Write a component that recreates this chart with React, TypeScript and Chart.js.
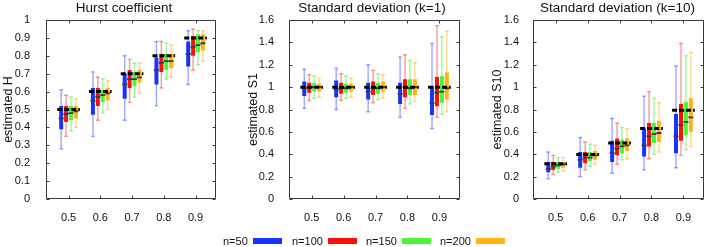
import React, { useEffect, useRef } from "react";
import { Chart, registerables } from "chart.js";

Chart.register(...registerables);

// ---------- data ----------
const categories = [0.5, 0.6, 0.7, 0.8, 0.9];
const seriesNames = ["n=50", "n=100", "n=150", "n=200"];
const yTicksHurst = [0, 0.1, 0.2, 0.3, 0.4, 0.5, 0.6, 0.7, 0.8, 0.9, 1];
const yTicksStd = [0, 0.2, 0.4, 0.6, 0.8, 1, 1.2, 1.4, 1.6];

const hurstTruth = [0.5, 0.6, 0.7, 0.8, 0.9];
const s1Truth = [1, 1, 1, 1, 1];
const s10Truth = [0.316, 0.398, 0.501, 0.631, 0.794];

// each entry: [min, q1, median, q3, max]
const hurstN50 = [[0.28, 0.39, 0.45, 0.52, 0.61], [0.35, 0.47, 0.55, 0.62, 0.71], [0.44, 0.56, 0.64, 0.7, 0.8], [0.52, 0.64, 0.72, 0.79, 0.88], [0.64, 0.74, 0.81, 0.88, 0.94]];
const hurstN100 = [[0.35, 0.43, 0.475, 0.52, 0.58], [0.44, 0.52, 0.57, 0.62, 0.68], [0.54, 0.62, 0.67, 0.72, 0.78], [0.62, 0.71, 0.76, 0.81, 0.88], [0.72, 0.8, 0.85, 0.91, 0.95]];
const hurstN150 = [[0.38, 0.44, 0.48, 0.52, 0.57], [0.48, 0.54, 0.58, 0.61, 0.67], [0.57, 0.63, 0.67, 0.71, 0.76], [0.67, 0.72, 0.77, 0.81, 0.87], [0.75, 0.82, 0.86, 0.92, 0.94]];
const hurstN200 = [[0.4, 0.45, 0.49, 0.52, 0.56], [0.5, 0.55, 0.59, 0.62, 0.66], [0.59, 0.65, 0.68, 0.72, 0.76], [0.68, 0.73, 0.77, 0.81, 0.86], [0.77, 0.83, 0.87, 0.92, 0.94]];

const s1N50 = [[0.81, 0.92, 0.99, 1.05, 1.16], [0.8, 0.91, 0.98, 1.06, 1.17], [0.78, 0.89, 0.96, 1.04, 1.2], [0.73, 0.85, 0.94, 1.04, 1.27], [0.63, 0.75, 0.86, 1.01, 1.39]];
const s1N100 = [[0.88, 0.95, 1.0, 1.04, 1.11], [0.88, 0.94, 0.99, 1.04, 1.12], [0.86, 0.93, 0.99, 1.05, 1.15], [0.81, 0.91, 1.0, 1.07, 1.29], [0.73, 0.83, 0.95, 1.09, 1.55]];
const s1N150 = [[0.9, 0.96, 1.0, 1.04, 1.1], [0.9, 0.95, 0.99, 1.03, 1.1], [0.89, 0.94, 0.99, 1.04, 1.12], [0.85, 0.93, 0.99, 1.07, 1.24], [0.76, 0.86, 0.96, 1.1, 1.45]];
const s1N200 = [[0.91, 0.96, 1.0, 1.03, 1.08], [0.91, 0.96, 1.0, 1.03, 1.08], [0.9, 0.96, 1.0, 1.05, 1.11], [0.87, 0.93, 1.0, 1.07, 1.22], [0.78, 0.89, 0.99, 1.13, 1.5]];

const s10N50 = [[0.18, 0.24, 0.27, 0.33, 0.42], [0.2, 0.28, 0.35, 0.42, 0.55], [0.23, 0.33, 0.41, 0.52, 0.72], [0.26, 0.38, 0.48, 0.63, 0.92], [0.28, 0.41, 0.56, 0.76, 1.19]];
const s10N100 = [[0.22, 0.26, 0.29, 0.33, 0.39], [0.26, 0.32, 0.37, 0.42, 0.51], [0.31, 0.39, 0.45, 0.54, 0.68], [0.36, 0.47, 0.56, 0.68, 0.96], [0.39, 0.52, 0.66, 0.85, 1.39]];
const s10N150 = [[0.24, 0.27, 0.3, 0.33, 0.37], [0.29, 0.34, 0.37, 0.42, 0.49], [0.35, 0.41, 0.47, 0.53, 0.64], [0.4, 0.5, 0.58, 0.68, 0.9], [0.44, 0.57, 0.69, 0.87, 1.28]];
const s10N200 = [[0.25, 0.28, 0.31, 0.33, 0.37], [0.31, 0.35, 0.39, 0.43, 0.48], [0.36, 0.43, 0.48, 0.54, 0.63], [0.42, 0.51, 0.59, 0.7, 0.86], [0.47, 0.6, 0.73, 0.9, 1.31]];

// ---------- styles ----------
const FONT = "'Liberation Sans', Arial, Helvetica, sans-serif";
const COLORS = ["#1434ff", "#ff0d0d", "#4cf43c", "#ffb414"];
const WHISKERS = ["rgba(20,52,255,0.42)", "rgba(255,13,13,0.42)", "rgba(76,244,60,0.5)", "rgba(255,180,20,0.5)"];
const BOX_OFFSETS = [-0.0232, -0.0077, 0.0077, 0.0232];
const REF_HALF = 0.0356;
const X_MIN = 0.429;
const X_MAX = 0.965;

type PanelCfg = {
  title: string;
  yTitle: string;
  yTicks: number[];
  truth: number[];
  series: number[][][];
  left: number;
  width: number;
  yAxisWidth: number;
  yTitlePad: number;
  yLabelPad: number;
  padRight: number;
  titleCenter: number;
};

const panels: PanelCfg[] = [
  { title: "Hurst coefficient", yTitle: "estimated H", yTicks: yTicksHurst, truth: hurstTruth, series: [hurstN50, hurstN100, hurstN150, hurstN200], left: 0, width: 222, yAxisWidth: 46, yTitlePad: 1.5, yLabelPad: 8, padRight: 3, titleCenter: 124 },
  { title: "Standard deviation (k=1)", yTitle: "estimated S1", yTicks: yTicksStd, truth: s1Truth, series: [s1N50, s1N100, s1N150, s1N200], left: 240, width: 226, yAxisWidth: 49, yTitlePad: 6.5, yLabelPad: 7, padRight: 3, titleCenter: 372 },
  { title: "Standard deviation (k=10)", yTitle: "estimated S10", yTicks: yTicksStd, truth: s10Truth, series: [s10N50, s10N100, s10N150, s10N200], left: 480, width: 230, yAxisWidth: 53, yTitlePad: 10.5, yLabelPad: 6, padRight: 2, titleCenter: 617.5 },
];

const CANVAS_H = 221;

const framePlugin = {
  id: "frameTicks",
  afterDraw(chart: any) {
    const { ctx, chartArea: a, scales } = chart;
    const L = Math.round(a.left) + 0.5;
    const R = Math.round(a.right) - 0.5;
    const T = Math.round(a.top) + 0.5;
    const B = Math.round(a.bottom) - 0.5;
    ctx.save();
    ctx.strokeStyle = "#3a3a3a";
    ctx.lineWidth = 1;
    ctx.beginPath();
    ctx.rect(L, T, R - L, B - T);
    const tl = 3;
    scales.x.ticks.forEach((t: any) => {
      const px = Math.round(scales.x.getPixelForValue(t.value)) + 0.5;
      ctx.moveTo(px, B); ctx.lineTo(px, B - tl);
      ctx.moveTo(px, T); ctx.lineTo(px, T + tl);
    });
    scales.y.ticks.forEach((t: any) => {
      const py = Math.round(scales.y.getPixelForValue(t.value)) + 0.5;
      ctx.moveTo(L, py); ctx.lineTo(L + tl, py);
      ctx.moveTo(R, py); ctx.lineTo(R - tl, py);
    });
    ctx.stroke();
    ctx.restore();
  },
};

const fmt = (v: number) => String(parseFloat(Number(v).toFixed(2)));

function Panel({ cfg }: { cfg: PanelCfg }) {
  const ref = useRef<HTMLCanvasElement>(null);
  useEffect(() => {
    if (!ref.current) return;
    const datasets: any[] = [];
    cfg.series.forEach((stats, s) => {
      const off = BOX_OFFSETS[s];
      const whisk: any[] = [];
      const box: any[] = [];
      const med: any[] = [];
      categories.forEach((c, i) => {
        const [mn, q1, md, q3, mx] = stats[i];
        const x = c + off;
        whisk.push({ x, y: mn }, { x, y: mx }, { x, y: null });
        box.push({ x, y: q1 }, { x, y: q3 }, { x, y: null });
        med.push({ x, y: md });
      });
      datasets.push({
        type: "line", label: seriesNames[s] + " range", data: whisk, borderColor: WHISKERS[s], borderWidth: 1.4,
        pointStyle: "line", pointRadius: 2, pointBorderColor: WHISKERS[s], pointBorderWidth: 1.4, spanGaps: false, order: 4,
      });
      datasets.push({
        type: "line", label: seriesNames[s], data: box, borderColor: COLORS[s], borderWidth: 4, borderCapStyle: "butt",
        pointRadius: 0, spanGaps: false, order: 3,
      });
      datasets.push({
        type: "line", label: seriesNames[s] + " median", data: med, showLine: false, pointStyle: "line", pointRadius: 2.5,
        pointBorderColor: "#3a3a3a", pointBorderWidth: 1.8, order: 2,
      });
    });
    const refLine: any[] = [];
    categories.forEach((c, i) => {
      refLine.push({ x: c - REF_HALF, y: cfg.truth[i] }, { x: c + REF_HALF, y: cfg.truth[i] }, { x: c, y: null });
    });
    datasets.push({
      type: "line", label: "true", data: refLine, borderColor: "#000", borderWidth: 3, borderDash: [5, 2],
      borderCapStyle: "butt", pointRadius: 0, spanGaps: false, order: 1,
    });

    const yMax = cfg.yTicks[cfg.yTicks.length - 1];
    const chart = new Chart(ref.current, {
      type: "line",
      data: { datasets },
      options: {
        animation: false,
        responsive: false,
        events: [],
        layout: { padding: { top: 20, left: 0, right: cfg.padRight, bottom: 0 } },
        plugins: { legend: { display: false }, tooltip: { enabled: false }, title: { display: false } },
        scales: {
          x: {
            type: "linear",
            min: X_MIN,
            max: X_MAX,
            grid: { display: false },
            border: { display: false },
            afterBuildTicks: (scale: any) => { scale.ticks = categories.map((v) => ({ value: v })); },
            afterFit: (scale: any) => { scale.height = 22; },
            ticks: {
              autoSkip: false, maxRotation: 0, padding: 4, color: "#111",
              font: { family: FONT, size: 11 },
              callback: (v: any) => fmt(v),
            },
          },
          y: {
            type: "linear",
            min: 0,
            max: yMax,
            grid: { display: false },
            border: { display: false },
            afterBuildTicks: (scale: any) => { scale.ticks = cfg.yTicks.map((v) => ({ value: v })); },
            afterFit: (scale: any) => { scale.width = cfg.yAxisWidth; },
            ticks: {
              autoSkip: false, padding: cfg.yLabelPad, color: "#111",
              font: { family: FONT, size: 11 },
              callback: (v: any) => fmt(v),
            },
            title: {
              display: true, text: cfg.yTitle, color: "#111",
              font: { family: FONT, size: 12.5 },
              padding: { top: cfg.yTitlePad, bottom: 0 },
            },
          },
        },
      },
      plugins: [framePlugin],
    } as any);
    return () => chart.destroy();
  }, [cfg]);

  return (
    <>
      <canvas
        ref={ref}
        width={cfg.width}
        height={CANVAS_H}
        style={{ position: "absolute", left: cfg.left, top: 0, width: cfg.width, height: CANVAS_H }}
      />
      <div
        style={{
          position: "absolute", left: cfg.titleCenter - 120, width: 240, top: 0, textAlign: "center",
          fontFamily: FONT, fontSize: 13.5, lineHeight: "16px", color: "#111", whiteSpace: "nowrap",
        }}
      >
        {cfg.title}
      </div>
    </>
  );
}

const legendTextLeft = [223, 292, 366, 440];
const legendSwatchLeft = [253, 328, 402, 476];

export default function App() {
  return (
    <div style={{ position: "absolute", left: 0, top: 0, width: 710, height: 247, overflow: "hidden", background: "#fff" }}>
      {panels.map((p, i) => (
        <Panel key={i} cfg={p} />
      ))}
      {seriesNames.map((name, i) => (
        <React.Fragment key={name}>
          <div
            style={{
              position: "absolute", left: legendTextLeft[i], top: 235, fontFamily: FONT, fontSize: 11,
              lineHeight: "12px", color: "#111", whiteSpace: "nowrap",
            }}
          >
            {name}
          </div>
          <div
            style={{
              position: "absolute", left: legendSwatchLeft[i], top: 238, width: 29, height: 6, background: COLORS[i],
            }}
          />
        </React.Fragment>
      ))}
    </div>
  );
}
